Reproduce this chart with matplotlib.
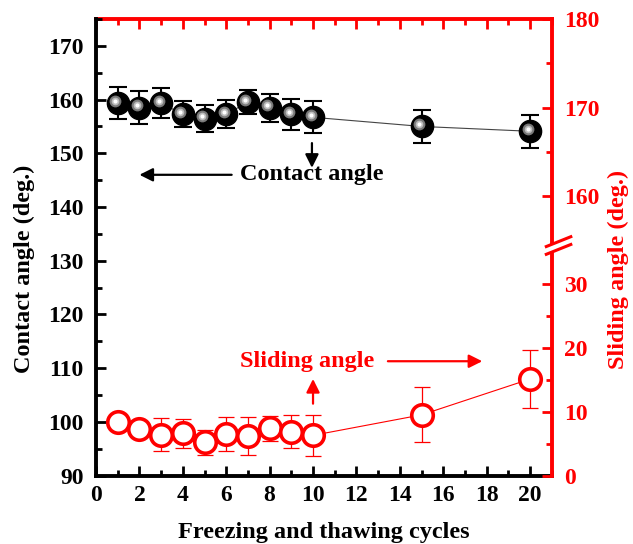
import numpy as np
import matplotlib
matplotlib.use("Agg")
import matplotlib.pyplot as plt
from matplotlib.ticker import MultipleLocator, FixedLocator
from matplotlib.transforms import ScaledTranslation

plt.rcParams['font.family'] = ['Liberation Serif', 'DejaVu Serif']
plt.rcParams['font.weight'] = 'bold'

# data
cycles = [1, 2, 3, 4, 5, 6, 7, 8, 9, 10, 15, 20]
contact = [159.3, 158.5, 159.3, 157.3, 156.4, 157.3, 159.5, 158.5, 157.3, 156.7, 155.0, 154.1]
contact_err = [3.0, 3.1, 2.8, 2.4, 2.5, 2.6, 2.2, 2.6, 2.9, 3.0, 3.1, 3.1]
sliding = [8.4, 7.3, 6.4, 6.6, 5.2, 6.5, 6.2, 7.4, 6.9, 6.3, 9.5, 15.1]
sliding_err = [1.0, 1.0, 2.6, 2.2, 2.0, 2.6, 3.0, 2.0, 2.6, 3.2, 4.3, 4.5]

x_ticks = list(range(0, 21, 2))
left_ticks = list(range(90, 171, 10))
right_ticks = [0, 10, 20, 30, 160, 170, 180]
right_minor = [5, 15, 25, 165, 175]

RED = '#ff0000'
TICK_FS = 17
LABEL_FS = 17.5

# broken right axis: 0-36 at the bottom, 154.5-180 at the top
brk_lo, brk_hi = 36.0, 154.5
orig_pts = [0.0, brk_lo, brk_hi, 180.0]
warp_pts = [0.0, brk_lo, brk_lo + 0.001, brk_lo + (180.0 - brk_hi) * 1.3865]


def fwd(v):
    return np.interp(v, orig_pts, warp_pts)


def inv(u):
    return np.interp(u, warp_pts, orig_pts)


fig = plt.figure(figsize=(6.33, 5.44), dpi=100)
ax = fig.add_axes([0.1517, 0.1256, 0.7199, 0.8395])
ax2 = ax.twinx()

# contact angle (left)
ax.plot(cycles, contact, color='#444444', lw=0.8, zorder=1)
ax.errorbar(cycles, contact, yerr=contact_err, fmt='none', ecolor='black',
            elinewidth=1.5, capsize=6.5, capthick=1.5, zorder=2)
ax.plot(cycles, contact, 'o', ms=16, color='black', mec='black', zorder=3)
hl = ax.transData + ScaledTranslation(-1.8 / 72, 1.8 / 72, fig.dpi_scale_trans)
ax.plot(cycles, contact, 'o', ms=8.5, color='#7a7a7a', mew=0, transform=hl, zorder=4)
ax.plot(cycles, contact, 'o', ms=5.5, color='#bdbdbd', mew=0, transform=hl, zorder=5)
ax.plot(cycles, contact, 'o', ms=3, color='white', mew=0, transform=hl, zorder=6)

ax.set_xlim(0, 21)
ax.set_ylim(90, 175)
ax.xaxis.set_major_locator(FixedLocator(x_ticks))
ax.xaxis.set_minor_locator(MultipleLocator(1))
ax.yaxis.set_major_locator(FixedLocator(left_ticks))
ax.yaxis.set_minor_locator(MultipleLocator(5))
ax.tick_params(which='both', direction='in', width=2, labelsize=TICK_FS, colors='black')
ax.tick_params(which='major', length=7)
ax.tick_params(which='minor', length=4)
ax.tick_params(axis='x', pad=7)
ax.tick_params(axis='y', pad=9)
for lab in ax.get_xticklabels() + ax.get_yticklabels():
    lab.set_fontweight('bold')
for s in ['left', 'bottom']:
    ax.spines[s].set_linewidth(2.8)
ax.spines['top'].set_visible(False)
ax.spines['right'].set_visible(False)

# top axis ticks in red
top = ax.secondary_xaxis('top')
top.xaxis.set_major_locator(FixedLocator(x_ticks))
top.xaxis.set_minor_locator(MultipleLocator(1))
top.tick_params(which='both', direction='in', width=2, colors=RED, labeltop=False)
top.tick_params(which='major', length=7)
top.tick_params(which='minor', length=4)
top.spines['top'].set_color(RED)
top.spines['top'].set_linewidth(2.8)

# sliding angle (right)
ax2.set_yscale('function', functions=(fwd, inv))
ax2.plot(cycles, sliding, color=RED, lw=0.8, zorder=1)
ax2.errorbar(cycles, sliding, yerr=sliding_err, fmt='none', ecolor=RED,
             elinewidth=0.9, capsize=5.5, capthick=0.9, zorder=2)
ax2.plot(cycles, sliding, 'o', ms=15.5, mfc='white', mec=RED, mew=2.6, zorder=3)
ax2.set_ylim(0, 180)
ax2.yaxis.set_major_locator(FixedLocator(right_ticks))
ax2.yaxis.set_minor_locator(FixedLocator(right_minor))
ax2.tick_params(which='both', direction='in', width=2, labelsize=TICK_FS, colors=RED, pad=9)
ax2.tick_params(which='major', length=7)
ax2.tick_params(which='minor', length=4)
for lab in ax2.get_yticklabels():
    lab.set_fontweight('bold')
for s in ['left', 'bottom', 'top']:
    ax2.spines[s].set_visible(False)
ax2.spines['right'].set_color(RED)
ax2.spines['right'].set_linewidth(2.8)

# break marks on the right spine
yb = 0.504
ax2.plot([0.985, 1.045], [yb - 0.012, yb + 0.012], transform=ax2.transAxes,
         color='white', lw=5, clip_on=False, zorder=10)
for d in (-0.0085, 0.0085):
    ax2.plot([0.985, 1.045], [yb - 0.012 + d, yb + 0.012 + d], transform=ax2.transAxes,
             color=RED, lw=2.2, clip_on=False, zorder=11, solid_capstyle='butt')

# labels
ax.set_xlabel('Freezing and thawing cycles', fontsize=LABEL_FS, fontweight='bold',
              va='center')
ax.xaxis.set_label_coords(0.5, -0.125)
ax.set_ylabel('Contact angle (deg.)', fontsize=LABEL_FS, fontweight='bold',
              va='center')
ax.yaxis.set_label_coords(-0.158, 0.452)
ax2.set_ylabel('Sliding angle (deg.)', fontsize=LABEL_FS, fontweight='bold',
               color=RED, va='center', rotation=90)
ax2.yaxis.set_label_coords(1.147, 0.452)

# annotations
arrow_k = dict(arrowstyle='-|>', lw=1.6, color='black', mutation_scale=20,
               shrinkA=0, shrinkB=0)
arrow_r = dict(arrowstyle='-|>', lw=1.6, color=RED, mutation_scale=20,
               shrinkA=0, shrinkB=0)
ax.text(6.64, 146.0, 'Contact angle', fontsize=LABEL_FS, fontweight='bold',
        color='black', va='center', ha='left', zorder=8)
ax.annotate('', xy=(2.0, 146.0), xytext=(6.25, 146.0), arrowprops=arrow_k, zorder=8)
ax.annotate('', xy=(9.95, 147.3), xytext=(9.95, 151.9), arrowprops=arrow_k, zorder=8)
ax.text(6.64, 111.3, 'Sliding angle', fontsize=LABEL_FS, fontweight='bold',
        color=RED, va='center', ha='left', zorder=8)
ax.annotate('', xy=(17.8, 111.3), xytext=(13.45, 111.3), arrowprops=arrow_r, zorder=8)
ax.annotate('', xy=(10.0, 108.0), xytext=(10.0, 103.4), arrowprops=arrow_r, zorder=8)

fig.savefig('out.png', dpi=100)
